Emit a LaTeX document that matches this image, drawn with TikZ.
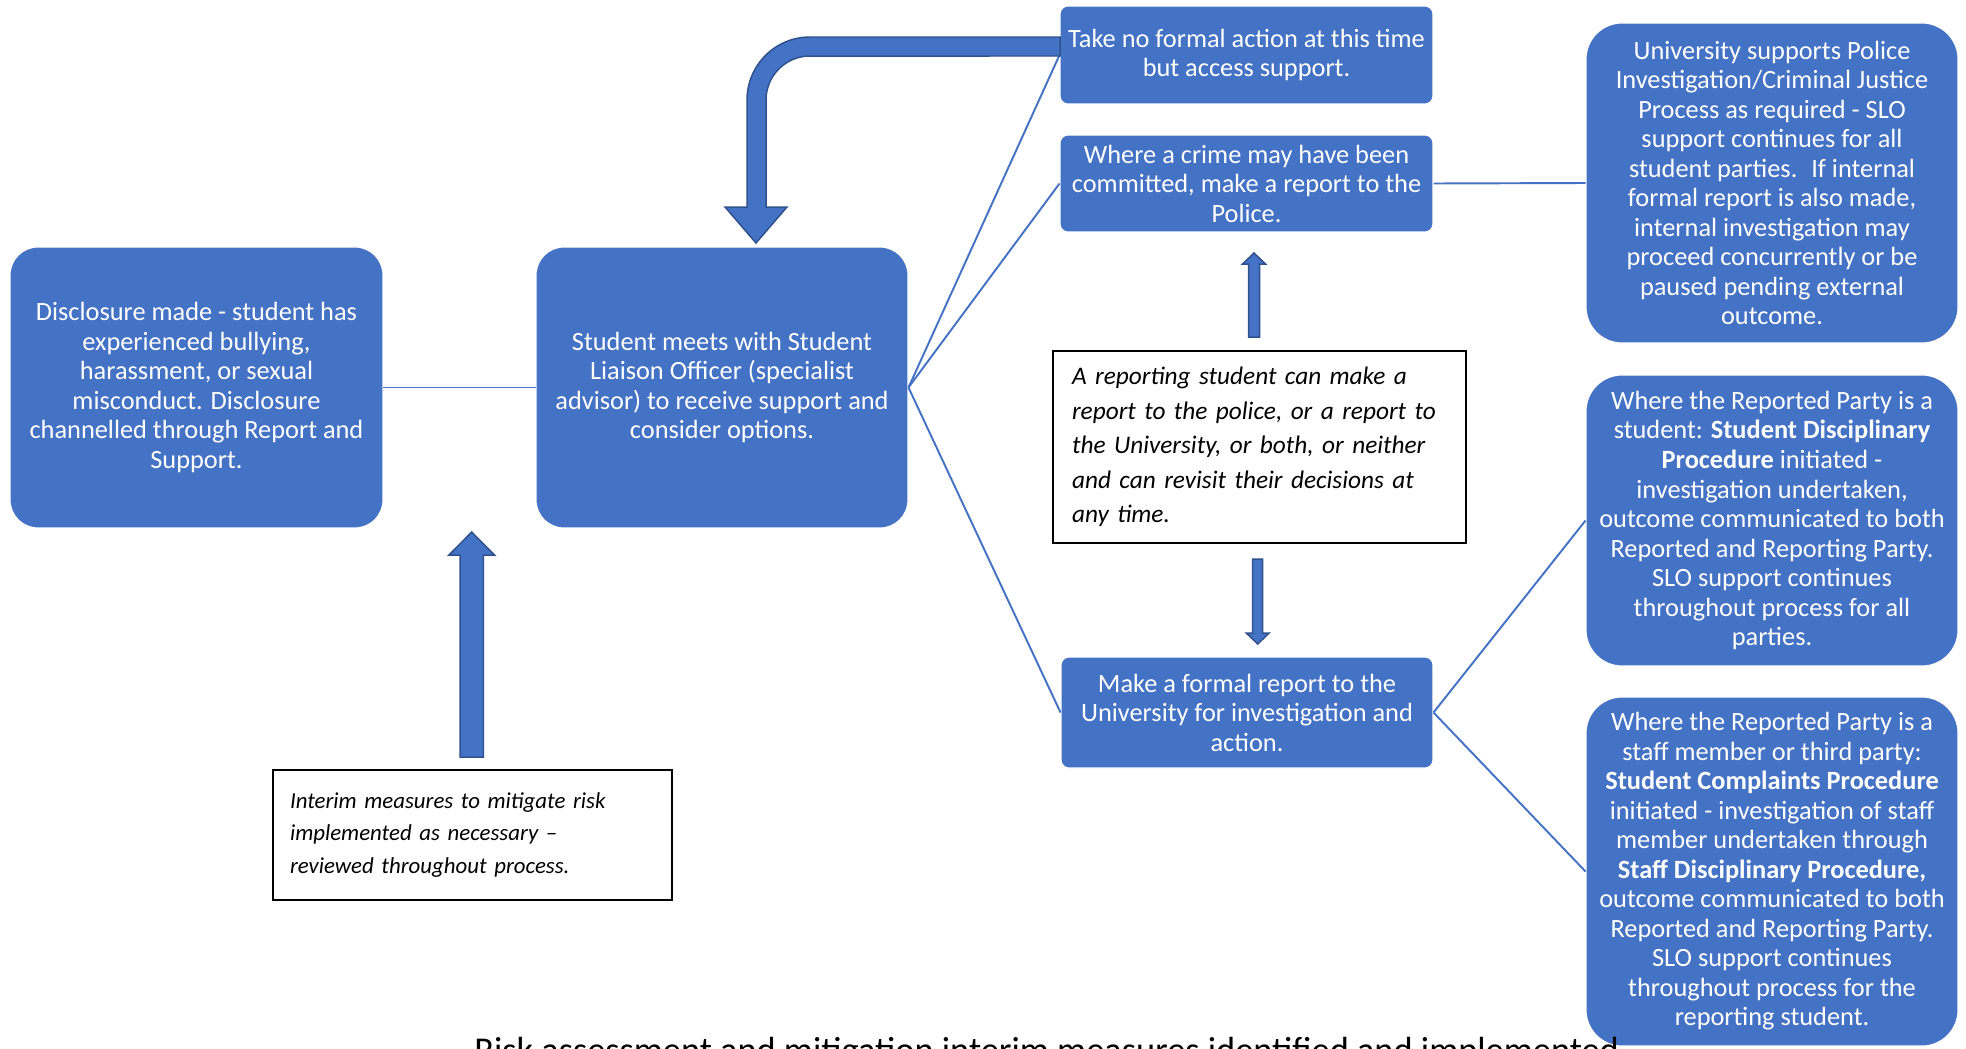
\documentclass[tikz,border=0pt]{standalone}
\usepackage{fontspec}
\setmainfont{Carlito}
\definecolor{officeblue}{HTML}{4472C4}
\definecolor{arrowedge}{HTML}{2F528F}

\begin{document}
\begin{tikzpicture}[x=0.02cm, y=-0.02cm,
    bluebox/.style={draw=white, line width=0.6pt, fill=officeblue, text=white, align=center,
      font=\fontsize{15}{16.8}\selectfont, inner sep=2pt},
    notebox/.style={draw=black, line width=0.85pt, fill=white, align=left},
    link/.style={draw=officeblue, line width=1.1pt},
    blockarrow/.style={fill=officeblue, draw=arrowedge, line width=0.85pt, line join=miter}]
    \useasboundingbox (0,0) rectangle (1966,1048);
    \clip (0,0) rectangle (1966,1048);
    %
    \node[bluebox, rounded corners=0.56cm, minimum width=7.46cm, minimum height=5.62cm] (D) at (196.5,387.5)
      {Disclosure made - student has\\experienced bullying,\\harassment, or sexual\\misconduct. Disclosure\\channelled through Report and\\Support.};
    \node[bluebox, rounded corners=0.56cm, minimum width=7.44cm, minimum height=5.62cm] (S) at (722,387.5)
      {Student meets with Student\\Liaison Officer (specialist\\advisor) to receive support and\\consider options.};
    \node[bluebox, rounded corners=0.16cm, minimum width=7.46cm, minimum height=1.96cm] (N) at (1246.5,55)
      {Take no formal action at this time\\but access support.};
    \node[bluebox, rounded corners=0.16cm, minimum width=7.46cm, minimum height=1.94cm] (P) at (1246.5,183.5)
      {Where a crime may have been\\committed, make a report to the\\Police.};
    \node[bluebox, rounded corners=0.16cm, minimum width=7.44cm, minimum height=2.22cm] (F) at (1247,712.5)
      {Make a formal report to the\\University for investigation and\\action.};
    \node[bluebox, rounded corners=0.72cm, minimum width=7.44cm, minimum height=6.4cm] (U) at (1772,183)
      {University supports Police\\Investigation/Criminal Justice\\Process as required - SLO\\support continues for all\\student parties.~ If internal\\formal report is also made,\\internal investigation may\\proceed concurrently or be\\paused pending external\\outcome.};
    \node[bluebox, rounded corners=0.72cm, minimum width=7.44cm, minimum height=5.82cm] (R) at (1772,520.5)
      {Where the Reported Party is a\\student: \textbf{Student Disciplinary}\\\textbf{Procedure} initiated -\\investigation undertaken,\\outcome communicated to both\\Reported and Reporting Party.\\SLO support continues\\throughout process for all\\parties.};
    \node[bluebox, rounded corners=0.72cm, minimum width=7.44cm, minimum height=6.98cm] (C) at (1772,871.5)
      {Where the Reported Party is a\\staff member or third party:\\\textbf{Student Complaints Procedure}\\initiated - investigation of staff\\member undertaken through\\\textbf{Staff Disciplinary Procedure,}\\outcome communicated to both\\Reported and Reporting Party.\\SLO support continues\\throughout process for the\\reporting student.};
    %
    \node[notebox, font=\fontsize{14.4}{19.6}\selectfont\itshape, text width=7.5cm, inner xsep=0.38cm,
      minimum height=3.84cm] (O) at (1259.5,447)
      {A reporting student can make a\\report to the police, or a report to\\the University, or both, or neither\\and can revisit their decisions at\\any time.};
    \node[notebox, font=\fontsize{13}{18.5}\selectfont\itshape, text width=7.3cm, inner xsep=0.34cm,
      minimum height=2.6cm] (I) at (472.5,835)
      {Interim measures to mitigate risk\\implemented as necessary --\\reviewed throughout process.};
    %
    \node[font=\fontsize{20.7}{24}\selectfont, anchor=base west, inner sep=0pt] (T) at (474,1062)
      {Risk assessment and mitigation interim measures identified and implemented};
    %
    \draw[link] (D.east) -- (S.west);
    \draw[link] (S.east) -- (N.west);
    \draw[link] (S.east) -- (P.west);
    \draw[link] (S.east) -- (F.west);
    \draw[link] (P.east) -- (U.west);
    \draw[link] (F.east) -- (R.west);
    \draw[link] (F.east) -- (C.west);
    %
    \filldraw[blockarrow] (1060,37) -- (810,37) arc[start angle=90, end angle=180, radius=1.26cm]
      -- (747,207) -- (725,207) -- (756,243) -- (787,207) -- (766,207)
      -- (766,100) arc[start angle=180, end angle=90, radius=0.88cm] -- (1060,56) -- cycle;
    \filldraw[blockarrow] (460,757) -- (460,555) -- (449,555) -- (471.7,532) -- (494.5,555) -- (483.4,555) -- (483.4,757) -- cycle;
    \filldraw[blockarrow] (1248.5,337) -- (1248.5,264) -- (1242.5,264) -- (1254,253) -- (1265.5,264) -- (1259.5,264) -- (1259.5,337) -- cycle;
    \filldraw[blockarrow] (1252.7,559) -- (1252.7,633) -- (1246.2,633) -- (1257.7,644) -- (1269.2,633) -- (1262.7,633) -- (1262.7,559) -- cycle;
\end{tikzpicture}
\end{document}
